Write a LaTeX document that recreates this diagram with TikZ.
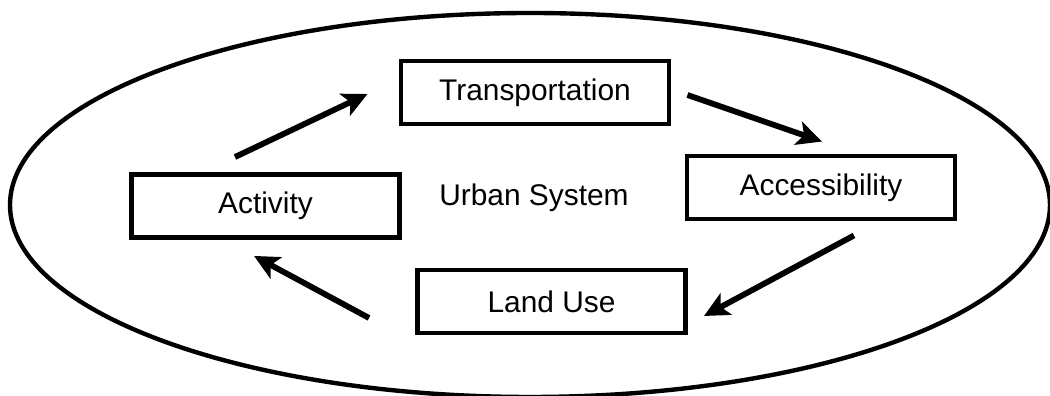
\documentclass[tikz,border=0pt]{standalone}
\usepackage{fontspec}
\setmainfont{Liberation Sans}
\usetikzlibrary{arrows.meta}
\tikzset{box/.style={draw=black, line width=2.8pt, minimum width=5.36cm, minimum height=1.26cm, inner sep=0pt, font=\fontsize{17}{20}\selectfont},
flow/.style={line width=3.3pt, -{Stealth[length=0.5cm,width=0.48cm,inset=0.12cm]}}}

\begin{document}
\begin{tikzpicture}
\useasboundingbox (0,0) rectangle (21,7.92);
% system outline
\draw [line width=2.5pt] (10.6,3.82) ellipse (10.4cm and 3.84cm);
\node [anchor=base, font=\fontsize{17}{20}\selectfont] (urban) at (10.68,3.80) {Urban System};

%boxes
\node [box] (trans) at (10.7,6.07) {Transportation};
\node [box] (act) at (5.31,3.80) {Activity};
\node [box] (acc) at (16.42,4.17) {Accessibility};
\node [box] (land) at (11.03,1.89) {Land Use};

%cycle
\draw [flow] ([shift={(-0.61,0.30)}]act.north) -- ([shift={(-0.62,-0.03)}]trans.west);
\draw [flow] ([shift={(0.32,-0.05)}]trans.east) -- ([shift={(0.02,0.24)}]acc.north);
\draw [flow] ([shift={(0.66,-0.28)}]acc.south) -- ([shift={(0.32,-0.29)}]land.east);
\draw [flow] ([shift={(-0.92,-0.33)}]land.west) -- ([shift={(-0.23,-0.32)}]act.south);

\end{tikzpicture}
\end{document}
